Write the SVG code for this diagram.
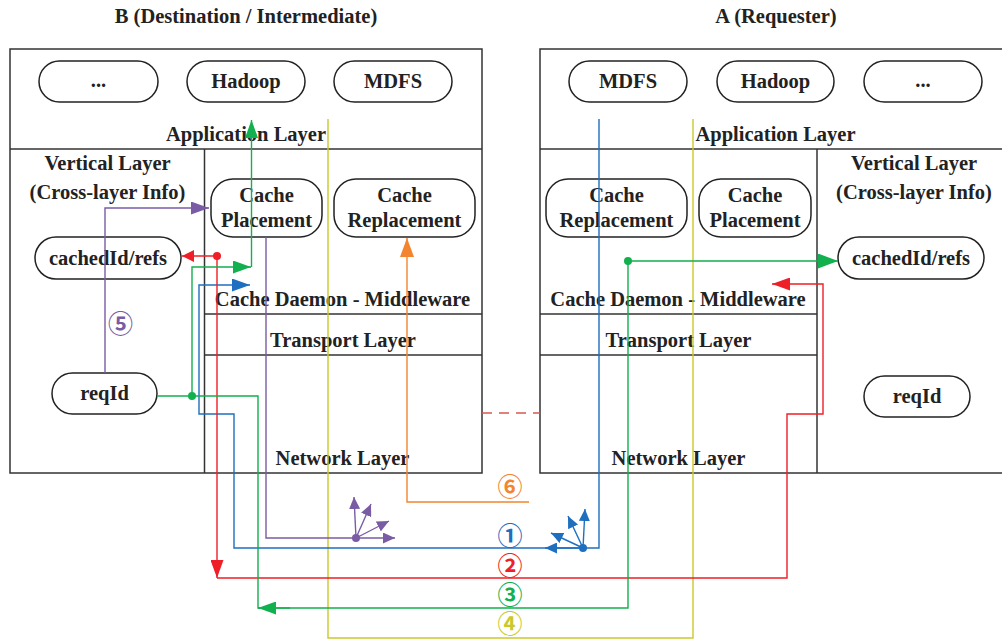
<svg xmlns="http://www.w3.org/2000/svg" width="1002" height="639" viewBox="0 0 1002 639">
<style>
.box{fill:none;stroke:#333;stroke-width:1.5}
.ln{stroke:#333;stroke-width:1.5}
.pill{fill:#fff;stroke:#222;stroke-width:1.5}
.t{font-family:"Liberation Serif","Times New Roman",serif;font-weight:bold;font-size:20.5px;fill:#222;text-anchor:middle}
.c{fill:none;stroke-width:1.4}
.num{font-family:"Noto Sans CJK SC","DejaVu Sans",sans-serif;font-size:25px;font-weight:bold;text-anchor:middle}
</style>
<defs>
<marker id="aG" markerUnits="userSpaceOnUse" markerWidth="19" markerHeight="13" refX="18" refY="6.5" orient="auto"><path d="M0,0 L18,6.5 L0,13 z" fill="#12b04e"/></marker>
<marker id="aGL" markerUnits="userSpaceOnUse" markerWidth="21" markerHeight="15" refX="20" refY="7.5" orient="auto"><path d="M0,0 L20,7.5 L0,15 z" fill="#12b04e"/></marker>
<marker id="aR" markerUnits="userSpaceOnUse" markerWidth="19" markerHeight="13" refX="18" refY="6.5" orient="auto"><path d="M0,0 L18,6.5 L0,13 z" fill="#ee1f26"/></marker>
<marker id="aRs" markerUnits="userSpaceOnUse" markerWidth="13" markerHeight="12" refX="12" refY="6" orient="auto"><path d="M0,0 L12,6 L0,12 z" fill="#ee1f26"/></marker>
<marker id="aB" markerUnits="userSpaceOnUse" markerWidth="19" markerHeight="13" refX="18" refY="6.5" orient="auto"><path d="M0,0 L18,6.5 L0,13 z" fill="#1f6fc0"/></marker>
<marker id="aBs" markerUnits="userSpaceOnUse" markerWidth="13" markerHeight="11" refX="12" refY="5.5" orient="auto"><path d="M0,0 L12,5.5 L0,11 z" fill="#1f6fc0"/></marker>
<marker id="aP" markerUnits="userSpaceOnUse" markerWidth="19" markerHeight="13" refX="18" refY="6.5" orient="auto"><path d="M0,0 L18,6.5 L0,13 z" fill="#7a5ca5"/></marker>
<marker id="aPs" markerUnits="userSpaceOnUse" markerWidth="13" markerHeight="11" refX="12" refY="5.5" orient="auto"><path d="M0,0 L12,5.5 L0,11 z" fill="#7a5ca5"/></marker>
<marker id="aO" markerUnits="userSpaceOnUse" markerWidth="20" markerHeight="14" refX="19" refY="7" orient="auto"><path d="M0,0 L19,7 L0,14 z" fill="#f4852f"/></marker>
</defs>

<text class="t" x="246" y="23">B (Destination / Intermediate)</text>
<text class="t" x="776" y="23">A (Requester)</text>

<g id="hostB">
<rect class="box" x="10" y="49" width="472" height="424"/>
<line class="ln" x1="10" y1="149" x2="482" y2="149"/>
<line class="ln" x1="204.5" y1="149" x2="204.5" y2="473"/>
<line class="ln" x1="204" y1="314" x2="482" y2="314"/>
<line class="ln" x1="204" y1="355" x2="482" y2="355"/>
<text class="t" x="246" y="141">Application Layer</text>
<text class="t" x="107.5" y="170">Vertical Layer</text>
<text class="t" x="107.5" y="199">(Cross-layer Info)</text>
<text class="t" x="342.5" y="306">Cache Daemon - Middleware</text>
<text class="t" x="343" y="347">Transport Layer</text>
<text class="t" x="342.5" y="465">Network Layer</text>
</g>

<g id="hostA">
<path class="box" d="M1010,49 H540 V473 H1010"/>
<line class="ln" x1="540" y1="149" x2="1002" y2="149"/>
<line class="ln" x1="817" y1="149" x2="817" y2="473"/>
<line class="ln" x1="540" y1="314" x2="817" y2="314"/>
<line class="ln" x1="540" y1="355" x2="817" y2="355"/>
<text class="t" x="775.5" y="141">Application Layer</text>
<text class="t" x="914" y="170">Vertical Layer</text>
<text class="t" x="914" y="199">(Cross-layer Info)</text>
<text class="t" x="678" y="306">Cache Daemon - Middleware</text>
<text class="t" x="678.5" y="347">Transport Layer</text>
<text class="t" x="678.5" y="465">Network Layer</text>
</g>

<g id="B-dots"><rect class="pill" x="39" y="61" width="119" height="41" rx="20.5"/><text class="t" x="98.5" y="87">...</text></g>
<g id="B-hadoop"><rect class="pill" x="187" y="61" width="118" height="41" rx="20.5"/><text class="t" x="246" y="88">Hadoop</text></g>
<g id="B-mdfs"><rect class="pill" x="334" y="61" width="118" height="41" rx="20.5"/><text class="t" x="393" y="88">MDFS</text></g>
<g id="B-placement"><rect class="pill" x="211" y="179" width="111" height="58" rx="22"/><text class="t" x="266.5" y="202">Cache</text><text class="t" x="266.5" y="227">Placement</text></g>
<g id="B-replacement"><rect class="pill" x="334" y="179" width="141" height="58" rx="22"/><text class="t" x="404.5" y="202">Cache</text><text class="t" x="404.5" y="227">Replacement</text></g>
<g id="B-cached"><rect class="pill" x="35" y="237" width="146" height="42" rx="21"/><text class="t" x="108" y="265">cachedId/refs</text></g>
<g id="B-reqid"><rect class="pill" x="52" y="373" width="105" height="41" rx="20.5"/><text class="t" x="104.5" y="400">reqId</text></g>

<g id="A-mdfs"><rect class="pill" x="569" y="61" width="118" height="41" rx="20.5"/><text class="t" x="628" y="88">MDFS</text></g>
<g id="A-hadoop"><rect class="pill" x="717" y="61" width="117" height="41" rx="20.5"/><text class="t" x="775.5" y="88">Hadoop</text></g>
<g id="A-dots"><rect class="pill" x="864" y="61" width="118" height="41" rx="20.5"/><text class="t" x="923" y="87">...</text></g>
<g id="A-replacement"><rect class="pill" x="546" y="179" width="141" height="58" rx="22"/><text class="t" x="616.5" y="202">Cache</text><text class="t" x="616.5" y="227">Replacement</text></g>
<g id="A-placement"><rect class="pill" x="699" y="179" width="112" height="58" rx="22"/><text class="t" x="755" y="202">Cache</text><text class="t" x="755" y="227">Placement</text></g>
<g id="A-cached"><rect class="pill" x="838" y="237" width="146" height="42" rx="21"/><text class="t" x="911" y="265">cachedId/refs</text></g>
<g id="A-reqid"><rect class="pill" x="864" y="376" width="106" height="41" rx="20.5"/><text class="t" x="917" y="403">reqId</text></g>

<g id="connectors">
<line x1="482" y1="413" x2="540" y2="413" stroke="#d65a52" stroke-width="1.4" stroke-dasharray="10,7"/>
<path class="c" stroke="#c9c92c" d="M328,119 V638 H693 V119"/>
<path class="c" stroke="#f4852f" d="M529,502 H407 V238" marker-end="url(#aO)"/>
<path class="c" stroke="#7a5ca5" d="M105,373 V208 H209" marker-end="url(#aP)"/>
<path class="c" stroke="#7a5ca5" d="M266,237 V538 H395" marker-end="url(#aPs)"/>
<line class="c" stroke="#7a5ca5" x1="356" y1="538" x2="354" y2="497" marker-end="url(#aPs)"/>
<line class="c" stroke="#7a5ca5" x1="356" y1="538" x2="371" y2="504" marker-end="url(#aPs)"/>
<line class="c" stroke="#7a5ca5" x1="356" y1="538" x2="389" y2="521" marker-end="url(#aPs)"/>
<circle cx="356" cy="538" r="4" fill="#7a5ca5"/>
<path class="c" stroke="#1f6fc0" d="M599,119 V548 H234 V414 H199 V285 H250" marker-end="url(#aB)"/>
<line class="c" stroke="#1f6fc0" x1="583" y1="548" x2="545" y2="548" marker-end="url(#aBs)"/>
<line class="c" stroke="#1f6fc0" x1="583" y1="548" x2="551" y2="533" marker-end="url(#aBs)"/>
<line class="c" stroke="#1f6fc0" x1="583" y1="548" x2="568" y2="516" marker-end="url(#aBs)"/>
<line class="c" stroke="#1f6fc0" x1="583" y1="548" x2="585" y2="509" marker-end="url(#aBs)"/>
<circle cx="583" cy="548" r="4" fill="#1f6fc0"/>
<path class="c" stroke="#ee1f26" d="M217,578 H787 V414 H823 V284 H772" marker-end="url(#aR)"/>
<path class="c" stroke="#ee1f26" d="M217,256 V578" marker-end="url(#aR)"/>
<path class="c" stroke="#ee1f26" d="M217,256 H182" marker-end="url(#aRs)"/>
<circle cx="217" cy="256" r="4" fill="#ee1f26"/>
<path class="c" stroke="#12b04e" d="M157,396 H258 V608 H628 V261 H838" marker-end="url(#aGL)"/>
<path class="c" stroke="#12b04e" d="M290,608 H258" marker-end="url(#aG)"/>
<circle cx="628" cy="261" r="4" fill="#12b04e"/>
<path class="c" stroke="#12b04e" d="M192,396 V267 H251" marker-end="url(#aG)"/>
<path class="c" stroke="#12b04e" d="M251.5,267 V120" marker-end="url(#aG)"/>
<circle cx="192" cy="396" r="4" fill="#12b04e"/>
</g>

<g id="labels">
<text class="num" x="510" y="496" fill="#f4852f">⑥</text>
<text class="num" x="510" y="545" fill="#1f6fc0">①</text>
<text class="num" x="510" y="575" fill="#ee1f26">②</text>
<text class="num" x="510" y="604" fill="#12b04e">③</text>
<text class="num" x="510" y="633" fill="#c9c92c">④</text>
<text class="num" x="120.5" y="333" fill="#7a5ca5">⑤</text>
</g>
</svg>
